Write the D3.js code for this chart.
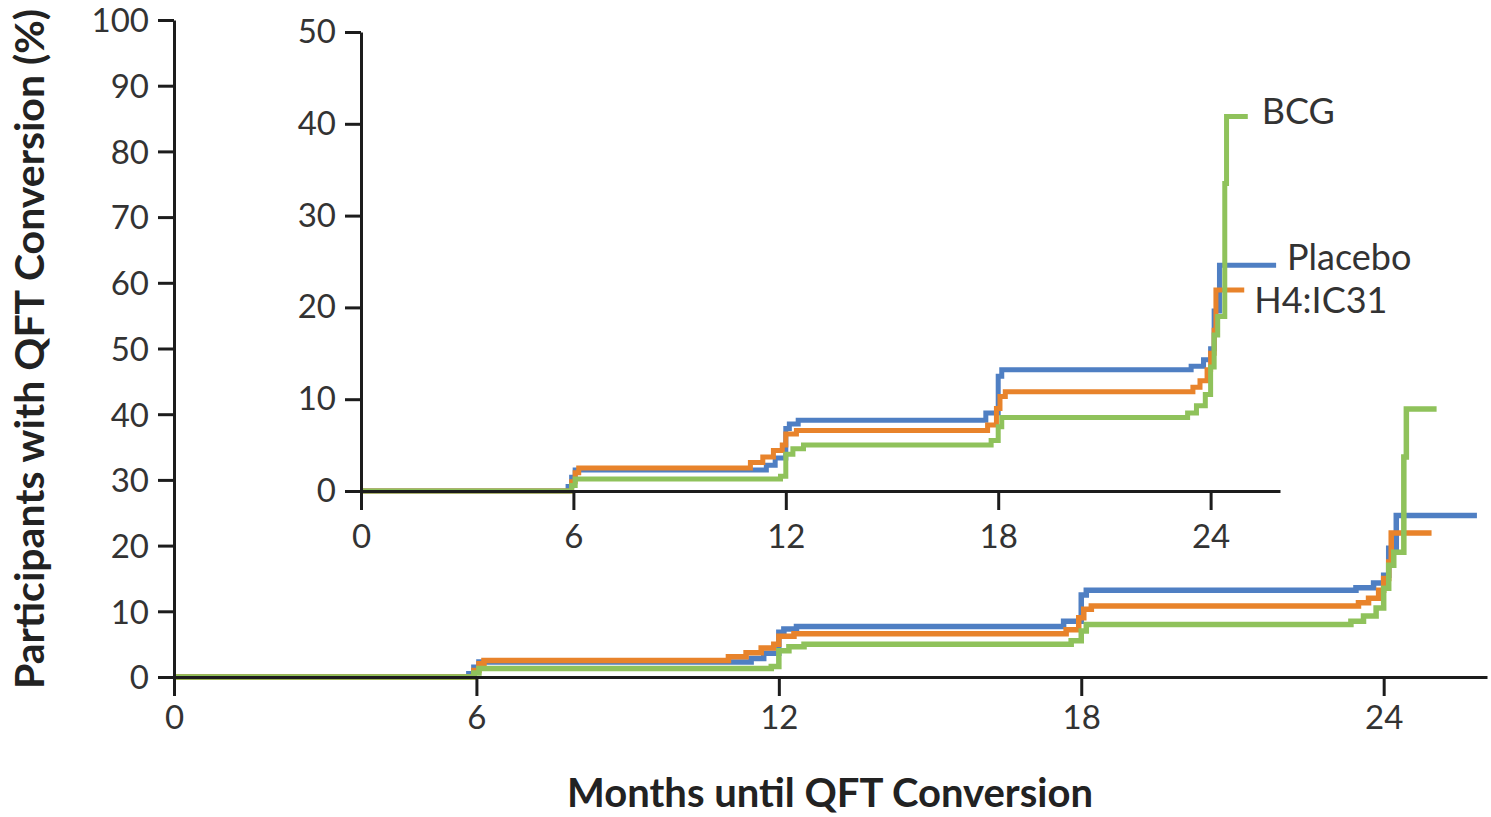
<!DOCTYPE html>
<html>
<head>
<meta charset="utf-8">
<script src="https://cdn.jsdelivr.net/npm/d3@7"></script>
<style>
  html, body { margin: 0; padding: 0; background: #fff; }
  svg { display: block; }
  .tick text { fill: #333; }
</style>
</head>
<body>
<svg id="chart" width="1491" height="817"></svg>
<script>
// Cumulative QFT conversion (%) by study arm, as step functions:
// at each month the curve rises to the paired value.
const seriesNames = ["Placebo", "H4:IC31", "BCG"];

const placeboMonths = [0, 5.85, 5.95, 6.05, 11.45, 11.7, 12.0, 12.1, 12.35, 17.65, 18.0, 18.1, 23.45, 23.8, 24.0, 24.1, 24.25, 25.85];
const placeboValues = [0, 0.5, 1.5, 2.3, 2.8, 3.6, 6.8, 7.3, 7.7, 8.5, 12.5, 13.2, 13.6, 14.3, 15.5, 19.6, 24.6, 24.6];

const h4Months = [0, 5.95, 6.05, 6.15, 11.0, 11.35, 11.65, 11.9, 12.0, 12.3, 17.7, 17.95, 18.05, 18.2, 23.5, 23.7, 23.9, 24.0, 24.1, 24.15, 24.95];
const h4Values = [0, 1.0, 2.0, 2.5, 3.1, 3.7, 4.4, 5.0, 6.2, 6.6, 7.2, 9.0, 10.3, 10.8, 11.3, 12.0, 13.2, 15.0, 17.5, 21.9, 21.9];

const bcgMonths = [0, 5.95, 6.05, 11.85, 12.0, 12.2, 12.5, 17.8, 18.0, 18.1, 23.35, 23.6, 23.85, 24.0, 24.1, 24.2, 24.4, 24.45, 25.05];
const bcgValues = [0, 0.6, 1.3, 1.6, 4.0, 4.6, 5.0, 5.5, 7.0, 8.0, 8.5, 9.3, 10.5, 13.5, 17.0, 19.0, 33.5, 40.8, 40.8];

const monthTicks = [0, 6, 12, 18, 24];
const mainPctTicks = [0, 10, 20, 30, 40, 50, 60, 70, 80, 90, 100];
const insetPctTicks = [0, 10, 20, 30, 40, 50];

const seriesColors = { "Placebo": "#4f7fc3", "H4:IC31": "#e8832b", "BCG": "#8fc25b" };

const series = [
  { name: "Placebo", months: placeboMonths, values: placeboValues },
  { name: "H4:IC31", months: h4Months, values: h4Values },
  { name: "BCG", months: bcgMonths, values: bcgValues }
].map(s => ({ name: s.name, points: s.months.map((m, i) => [m, s.values[i]]) }));

const FONT = "Lato, 'Open Sans', sans-serif";
const svg = d3.select("#chart");

function drawPanel(g, x, y, pctTicks, lineWidth, tickFont) {
  const xAxis = d3.axisBottom(x).tickValues(monthTicks).tickFormat(d3.format("d"))
    .tickSize(19).tickSizeOuter(0).tickPadding(10);
  const yAxis = d3.axisLeft(y).tickValues(pctTicks).tickFormat(d3.format("d"))
    .tickSize(16).tickSizeOuter(0).tickPadding(9);

  const line = d3.line().x(d => x(d[0])).y(d => y(d[1])).curve(d3.curveStepAfter);

  g.selectAll("path.series")
    .data(series)
    .join("path")
    .attr("class", "series")
    .attr("fill", "none")
    .attr("stroke", d => seriesColors[d.name])
    .attr("stroke-width", lineWidth)
    .attr("stroke-linejoin", "miter")
    .attr("d", d => line(d.points));

  const gx = g.append("g").attr("transform", `translate(0,${y(0)})`).call(xAxis);
  const gy = g.append("g").attr("transform", `translate(${x(0)},0)`).call(yAxis);

  [gx, gy].forEach(a => {
    a.select(".domain").attr("stroke", "#1c1c1c").attr("stroke-width", 3);
    a.selectAll(".tick line").attr("stroke", "#1c1c1c").attr("stroke-width", 3);
    a.selectAll(".tick text").attr("font-family", FONT).attr("font-size", tickFont).attr("fill", "#333");
  });
  return { gx, gy };
}

// Main panel: 0–100 %
const xMain = d3.scaleLinear().domain([0, 26.05]).range([174, 1487]);
const yMain = d3.scaleLinear().domain([0, 100]).range([677, 20]);
const mainG = svg.append("g");
const main = drawPanel(mainG, xMain, yMain, mainPctTicks, 5.5, 33);
main.gy.selectAll(".tick text").attr("dy", "0.36em");

// Inset panel: enlarged 0–50 %
const xIn = d3.scaleLinear().domain([0, 25.96]).range([361, 1280]);
const yIn = d3.scaleLinear().domain([0, 50]).range([491, 32]);
const insetG = svg.append("g");
const inset = drawPanel(insetG, xIn, yIn, insetPctTicks, 5, 33);
inset.gx.selectAll(".tick text").attr("y", 34);

// Series labels at the end of the inset curves
const labelOffsets = { "BCG": [14, -5], "Placebo": [11, -8], "H4:IC31": [10, 10] };
insetG.selectAll("text.series-label")
  .data(series)
  .join("text")
  .attr("class", "series-label")
  .attr("x", d => xIn(d.points[d.points.length - 1][0]) + labelOffsets[d.name][0])
  .attr("y", d => yIn(d.points[d.points.length - 1][1]) + labelOffsets[d.name][1])
  .attr("dy", "0.35em")
  .attr("font-family", FONT)
  .attr("font-size", 36)
  .attr("fill", "#333")
  .text(d => d.name);

// Axis titles
svg.append("text")
  .attr("x", 830).attr("y", 793).attr("dy", "0.35em")
  .attr("text-anchor", "middle")
  .attr("font-family", FONT).attr("font-weight", "bold").attr("font-size", 40)
  .attr("fill", "#222")
  .text("Months until QFT Conversion");

svg.append("text")
  .attr("transform", "translate(30,349) rotate(-90)")
  .attr("dy", "0.35em")
  .attr("text-anchor", "middle")
  .attr("font-family", FONT).attr("font-weight", "bold").attr("font-size", 41)
  .attr("fill", "#222")
  .text("Participants with QFT Conversion (%)");
</script>
</body>
</html>
